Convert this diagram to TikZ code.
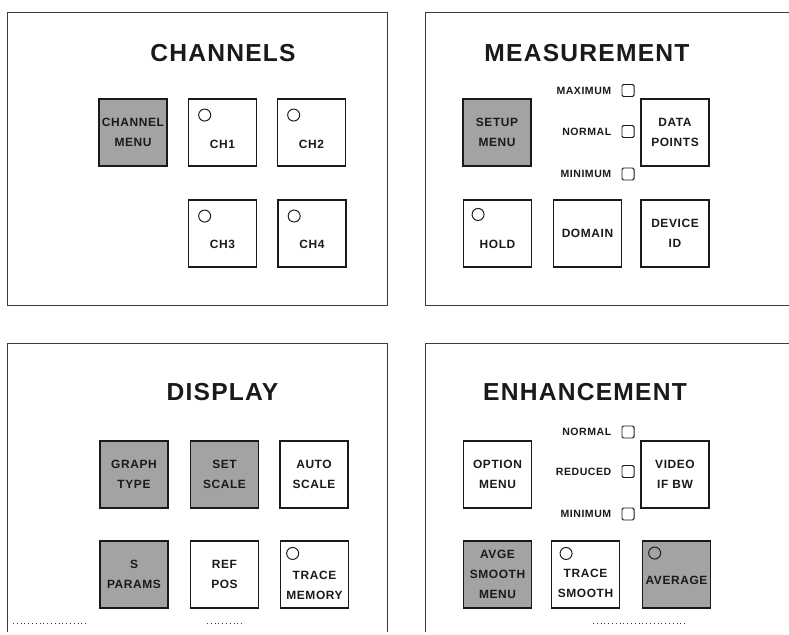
\documentclass[tikz,border=0pt]{standalone}
\usepackage{fontspec}
\setmainfont{Liberation Sans}
\newfontfamily\panelfont[LetterSpace=5]{Liberation Sans}
\usetikzlibrary{positioning}
\definecolor{ink}{HTML}{1A1A1A}
\definecolor{shade}{HTML}{A3A3A3}
\tikzset{
  frame/.style={draw=ink!85,line width=0.7pt},
  key/.style={rectangle,draw=ink,line width=0.9pt,minimum width=1.7cm,minimum height=1.68cm,
    inner sep=0pt,align=center,text=ink,font=\panelfont\bfseries\fontsize{8.5}{14}\selectfont},
  keyshade/.style={key,fill=shade},
  keytext/.style={inner sep=0pt,align=center,text=ink,font=\panelfont\bfseries\fontsize{8.5}{14}\selectfont},
  lamp/.style={circle,draw=ink,line width=0.7pt,minimum size=0.3cm,inner sep=0pt},
  chkbox/.style={rectangle,rounded corners=1pt,draw=ink,line width=0.7pt,minimum size=0.3cm,inner sep=0pt},
  setlabel/.style={inner sep=0pt,text=ink,font=\panelfont\bfseries\fontsize{7.5}{9}\selectfont},
  paneltitle/.style={inner sep=0pt,text=ink,font=\panelfont\bfseries\fontsize{17.5}{20}\selectfont}
}

\begin{document}
\begin{tikzpicture}[x=0.025cm,y=-0.025cm]
\useasboundingbox (0,0) rectangle (789,635);

% panel frames
\draw[frame] (7,12) rectangle (387,305);
\draw[frame] (789,12) -| (425,305) -- (789,305);
\draw[frame] (7,632) |- (387,343) -- (387,632);
\draw[frame] (425,632) |- (789,343);
\draw[frame,dotted] (13,623) -- (88,623) (207,623) -- (242,623) (593,623) -- (687,623);

% CHANNELS
\node[paneltitle] (chtitle) at (223,53) {CHANNELS};
\node[keyshade] (chmenu) at (133,132.5) {CHANNEL\\MENU};
\node[key] (ch1) at (222.5,132.5) {};
\node[keytext,yshift=-0.3cm] (ch1txt) at (ch1) {CH1};
\node[lamp] (ch1lamp) at ([xshift=0.42cm,yshift=-0.42cm]ch1.north west) {};
\node[key] (ch2) at (311.5,132.5) {};
\node[keytext,yshift=-0.3cm] (ch2txt) at (ch2) {CH2};
\node[lamp] (ch2lamp) at ([xshift=0.42cm,yshift=-0.42cm]ch2.north west) {};
\node[key] (ch3) at (222.5,233.5) {};
\node[keytext,yshift=-0.28cm] (ch3txt) at (ch3) {CH3};
\node[lamp] (ch3lamp) at ([xshift=0.42cm,yshift=-0.42cm]ch3.north west) {};
\node[key] (ch4) at (312,233.5) {};
\node[keytext,yshift=-0.28cm] (ch4txt) at (ch4) {CH4};
\node[lamp] (ch4lamp) at ([xshift=0.42cm,yshift=-0.42cm]ch4.north west) {};

% MEASUREMENT
\node[paneltitle] (metitle) at (587,53) {MEASUREMENT};
\node[keyshade] (setup) at (497,132.5) {SETUP\\MENU};
\node[key] (datapts) at (675,132.5) {DATA\\POINTS};
\node[key] (hold) at (497.5,233.5) {};
\node[keytext,yshift=-0.27cm] (holdtxt) at (hold) {HOLD};
\node[lamp] (holdlamp) at ([xshift=0.38cm,yshift=-0.38cm]hold.north west) {};
\node[key] (domain) at (587.5,233.5) {DOMAIN};
\node[key] (devid) at (675,233.5) {DEVICE\\ID};
\node[chkbox] (maxbox) at (628,90.5) {};
\node[setlabel,left=0.25cm of maxbox] (maxlbl) {MAXIMUM};
\node[chkbox] (normbox) at (628,131.5) {};
\node[setlabel,left=0.25cm of normbox] (normlbl) {NORMAL};
\node[chkbox] (minbox) at (628,174) {};
\node[setlabel,left=0.25cm of minbox] (minlbl) {MINIMUM};

% DISPLAY
\node[paneltitle] (dstitle) at (222.5,392) {DISPLAY};
\node[keyshade] (graph) at (134,474.5) {GRAPH\\TYPE};
\node[keyshade] (setscale) at (224.5,474.5) {SET\\SCALE};
\node[key] (autoscale) at (314,474.5) {AUTO\\SCALE};
\node[keyshade] (sparams) at (134,574.5) {S\\PARAMS};
\node[key] (refpos) at (224.5,574.5) {REF\\POS};
\node[key] (tracemem) at (314.5,574.5) {};
\node[keytext,yshift=-0.27cm] (tracememtxt) at (tracemem) {TRACE\\MEMORY};
\node[lamp] (tracememlamp) at ([xshift=0.32cm,yshift=-0.33cm]tracemem.north west) {};

% ENHANCEMENT
\node[paneltitle] (entitle) at (585,392) {ENHANCEMENT};
\node[key] (optmenu) at (497.5,474.5) {OPTION\\MENU};
\node[key] (videobw) at (675,474.5) {VIDEO\\IF BW};
\node[chkbox] (ennormbox) at (628,432) {};
\node[setlabel,left=0.25cm of ennormbox] (ennormlbl) {NORMAL};
\node[chkbox] (redbox) at (628,471.5) {};
\node[setlabel,left=0.25cm of redbox] (redlbl) {REDUCED};
\node[chkbox] (enminbox) at (628,514) {};
\node[setlabel,left=0.25cm of enminbox] (enminlbl) {MINIMUM};
\node[keyshade] (avgsmooth) at (497.5,574.5) {AVGE\\SMOOTH\\MENU};
\node[key] (trsmooth) at (585.5,574.5) {};
\node[keytext,yshift=-0.22cm] (trsmoothtxt) at (trsmooth) {TRACE\\SMOOTH};
\node[lamp] (trsmoothlamp) at ([xshift=0.38cm,yshift=-0.33cm]trsmooth.north west) {};
\node[keyshade] (average) at (676.5,574.5) {};
\node[keytext,yshift=-0.15cm] (averagetxt) at (average) {AVERAGE};
\node[lamp] (averagelamp) at ([xshift=0.32cm,yshift=-0.32cm]average.north west) {};
\end{tikzpicture}
\end{document}
